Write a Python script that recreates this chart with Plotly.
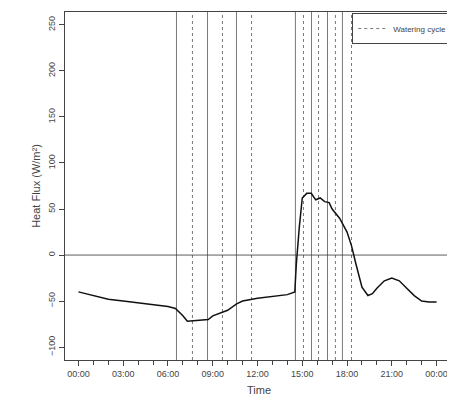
import plotly.graph_objects as go

hours = [0,1,2,3,4,5,6,6.5,7.0,7.3,8,8.7,9,10,10.6,11,12,13,14,14.5,14.6,14.8,15.0,15.3,15.6,15.9,16.2,16.5,16.8,17.0,17.5,18.0,18.3,18.6,19.0,19.4,19.7,20.0,20.5,21.0,21.5,22.0,22.5,23.0,23.5,24.0]
flux = [-40,-44,-48,-50,-52,-54,-56,-58,-66,-72,-71,-70,-66,-60,-53,-50,-47,-45,-43,-40,-10,30,62,67,67,60,62,58,57,50,40,25,10,-10,-35,-44,-42,-36,-28,-25,-28,-36,-44,-50,-51,-51]
water_hours = [6.57,7.64,8.65,9.65,10.59,11.6,14.54,15.08,15.62,16.09,16.69,17.22,17.69,18.3]
tick_vals = [0,3,6,9,12,15,18,21,24]
tick_text = ["00:00","03:00","06:00","09:00","12:00","15:00","18:00","21:00","00:00"]

fig = go.Figure()
for i, h in enumerate(water_hours):
    fig.add_trace(go.Scatter(x=[h,h], y=[-114,264], mode="lines",
        line=dict(color="#555", width=0.8, dash="solid" if i % 2 == 0 else "3px,3px"),
        name="Watering cycle", showlegend=(i == 1), legendgroup="w"))
fig.add_trace(go.Scatter(x=[-1.2,25.2], y=[0,0], mode="lines", line=dict(color="#333", width=0.8), showlegend=False))
fig.add_trace(go.Scatter(x=hours, y=flux, mode="lines", line=dict(color="#111", width=1.5), showlegend=False))

fig.update_layout(
    width=447, height=409, margin=dict(l=57, r=2, t=4, b=57, autoexpand=False),
    plot_bgcolor="white", paper_bgcolor="white",
    font=dict(family="Liberation Sans, Arial", size=9, color="#444"),
    legend=dict(x=0.998, y=0.997, xanchor="right", yanchor="top", bordercolor="#444", borderwidth=1, bgcolor="white",
                font=dict(size=8), itemwidth=30, tracegroupgap=0),
    xaxis=dict(range=[-0.9,25.1], tickvals=tick_vals, ticktext=tick_text, ticks="outside", ticklen=5,
               minor=dict(dtick=1, ticks="outside", ticklen=4, tick0=0), showgrid=False, zeroline=False, automargin=False,
               showline=True, mirror=True, linecolor="#444", title=dict(text="Time", standoff=8)),
    yaxis=dict(range=[-114,264], tickvals=[-100,-50,0,50,100,150,200,250], tickangle=-90, ticks="outside", ticklen=5,
               showgrid=False, zeroline=False, showline=True, mirror=True, linecolor="#444", automargin=False,
               title=dict(text="Heat Flux (W/m²)", standoff=4)),
)
fig.write_html("out.html")
